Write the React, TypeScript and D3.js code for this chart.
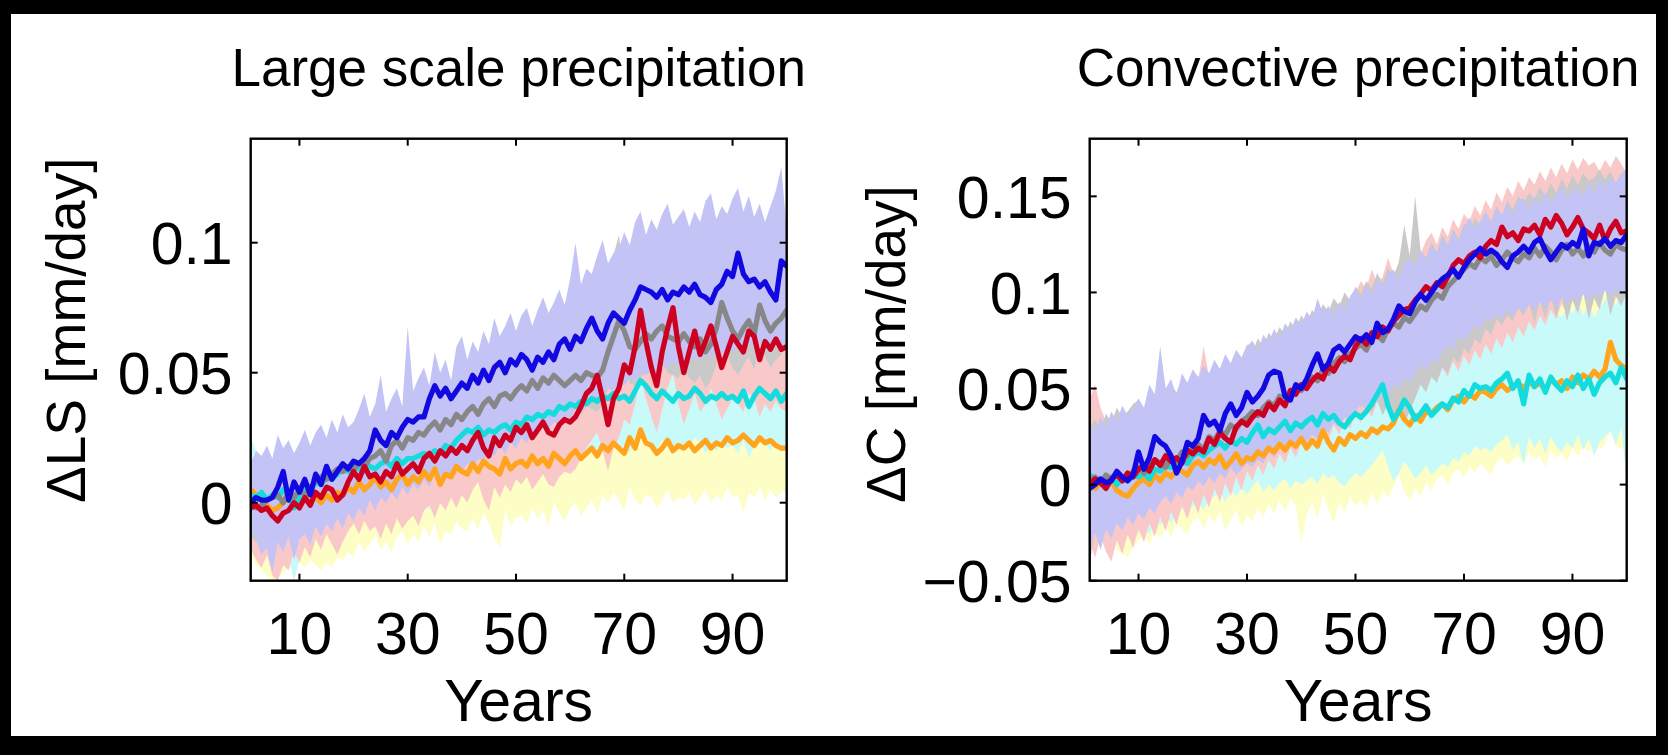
import React from 'react';
import * as d3 from 'd3';

// Years on the x axis
const years: number[] = Array.from({ length: 100 }, (_, i) => i + 1);
const xTicks = [10, 30, 50, 70, 90];
const lsYTicks = [0, 0.05, 0.1];
const cYTicks = [-0.05, 0, 0.05, 0.1, 0.15];

// ---------- Large scale precipitation (values in 0.001 mm/day) ----------
const lsBlue = [
  0, 2, 1, 1, 2, 6, 12, 1, 8, 4,
  9, 3, 11, 7, 14, 9, 12, 15, 13, 16,
  15, 17, 20, 28, 24, 22, 27, 25, 29, 32,
  31, 33, 33, 40, 45, 41, 44, 40, 43, 46,
  44, 49, 46, 51, 47, 52, 54, 50, 55, 53,
  57, 55, 51, 56, 54, 58, 55, 61, 63, 59,
  64, 62, 67, 71, 66, 63, 69, 73, 71, 69,
  74, 78, 83, 82, 81, 79, 82, 78, 81, 80,
  83, 81, 84, 80, 79, 77, 82, 84, 89, 87,
  96, 88, 85, 86, 83, 85, 81, 78, 93, 91,
];
const lsBlueHi = [
  15, 20, 18, 22, 17, 26, 21, 24, 19, 23,
  28, 22, 27, 30, 25, 32, 27, 34, 29, 31,
  36, 42, 33, 38, 49, 35, 40, 44, 37, 68,
  43, 48, 52, 45, 58, 50, 55, 47, 60, 64,
  55, 62, 58, 66, 61, 71, 64, 68, 73, 66,
  72, 75, 68, 74, 79, 73, 77, 82, 76, 86,
  100, 84, 90, 88, 95, 101, 92, 96, 98, 104,
  99, 108, 112, 103, 109, 105, 111, 115, 107, 110,
  113, 106, 112, 108, 116, 119, 109, 114, 111, 117,
  121, 112, 118, 110, 115, 108, 114, 120, 129, 105,
];
const lsBlueLo = [
  -10, -14, -20, -17, -27, -15, -19, -13, -22, -14,
  -12, -16, -9, -13, -8, -11, -6, -10, -4, -7,
  -2, -5, 1, -3, 2, 0, 4, 1, 6, 3,
  7, 5, 9, 6, 11, 8, 12, 10, 14, 12,
  15, 13, 17, 16, 20, 18, 22, 19, 23, 21,
  25, 23, 27, 26, 29, 28, 31, 30, 34, 32,
  36, 35, 38, 41, 39, 42, 44, 43, 46, 45,
  48, 47, 50, 49, 51, 50, 53, 52, 54, 53,
  55, 54, 56, 55, 57, 56, 58, 57, 59, 58,
  60, 59, 61, 60, 62, 61, 60, 62, 61, 60,
];
const lsGray = [
  0, -2, -1, 1, 2, 3, 0, 4, 2, 5,
  3, 6, 8, 10, 9, 11, 13, 12, 14, 13,
  15, 14, 17, 18, 20, 16, 22, 24, 21, 25,
  24, 27, 26, 29, 31, 28, 32, 30, 34, 32,
  35, 37, 34, 38, 40, 37, 41, 42, 40, 43,
  45, 43, 47, 44, 48, 46, 49, 47, 45, 47,
  49, 47, 50, 49, 48, 51, 58, 64, 70, 66,
  60, 59, 62, 65, 63, 66, 68, 64, 63, 62,
  65, 62, 60, 63, 58, 61, 67, 77, 71, 66,
  63, 67, 70, 65, 76, 70, 66, 69, 71, 74,
];
const lsGrayHi = [
  12, 10, 13, 14, 15, 16, 12, 17, 15, 18,
  16, 19, 21, 23, 22, 24, 26, 25, 27, 26,
  28, 27, 30, 31, 33, 29, 35, 37, 34, 38,
  37, 40, 39, 42, 44, 41, 45, 43, 47, 45,
  48, 50, 47, 51, 53, 50, 54, 55, 53, 56,
  58, 56, 60, 57, 61, 59, 62, 60, 58, 60,
  62, 60, 63, 62, 61, 70, 82, 95, 103, 88,
  78, 76, 80, 84, 82, 86, 90, 84, 82, 80,
  82, 78, 76, 80, 75, 78, 85, 97, 90, 84,
  80, 85, 88, 82, 94, 88, 84, 87, 89, 92,
];
const lsGrayLo = [
  -13, -15, -14, -12, -11, -10, -13, -9, -11, -8,
  -10, -7, -5, -3, -4, -2, 0, -1, 1, 0,
  2, 1, 4, 5, 7, 3, 9, 11, 8, 12,
  11, 14, 13, 16, 18, 15, 19, 17, 21, 19,
  22, 24, 21, 25, 27, 24, 28, 29, 27, 30,
  32, 30, 34, 31, 35, 33, 36, 34, 32, 34,
  36, 34, 37, 36, 35, 38, 44, 50, 56, 52,
  46, 45, 48, 51, 49, 52, 54, 50, 49, 48,
  51, 48, 46, 49, 44, 47, 53, 63, 57, 52,
  49, 53, 56, 51, 62, 56, 52, 55, 57, 60,
];
const lsRed = [
  -2, -1, -3, -2, -5, -7, -4, -3, 0, -2,
  2, -1, 4, 2, 6, 5, 1, 3, 8, 12,
  9, 14, 10, 11, 8, 12, 10, 15, 11, 13,
  15, 12, 17, 19, 16, 20, 18, 21, 19, 22,
  20, 24, 27, 21, 18, 25, 22, 26, 24, 29,
  27, 30, 25, 28, 31, 27, 26, 30, 32, 31,
  33, 37, 42, 44, 49, 40, 30, 40, 44, 53,
  50, 60, 74, 62, 52, 45, 58, 67, 75, 60,
  50, 58, 66, 57, 62, 68, 60, 52, 58, 64,
  61, 58, 66, 64, 55, 62, 59, 63, 59, 60,
];
const lsRedHi = [
  12, 14, 10, 13, 9, 7, 11, 13, 16, 14,
  18, 15, 20, 17, 22, 20, 16, 19, 23, 27,
  24, 29, 25, 27, 23, 28, 26, 31, 27, 29,
  31, 28, 33, 35, 32, 36, 34, 37, 35, 38,
  36, 40, 43, 37, 34, 41, 38, 42, 40, 45,
  43, 46, 41, 44, 47, 43, 42, 46, 48, 47,
  49, 53, 58, 60, 65, 56, 47, 56, 60, 69,
  66, 76, 90, 78, 68, 61, 74, 83, 91, 76,
  66, 74, 82, 73, 78, 84, 76, 68, 74, 80,
  77, 74, 82, 80, 71, 78, 75, 79, 75, 76,
];
const lsRedLo = [
  -18, -22, -25, -20, -28, -30, -24, -26, -19, -23,
  -17, -21, -14, -18, -12, -16, -20, -15, -11, -8,
  -12, -7, -11, -9, -14, -8, -12, -6, -10, -7,
  -5, -9, -3, -1, -6, 0, -3, 2, -2, 3,
  0, 5, 8, 1, -3, 6, 2, 7, 4, 9,
  7, 10, 5, 8, 11, 7, 6, 10, 12, 11,
  13, 17, 21, 24, 27, 20, 12, 21, 25, 32,
  30, 38, 48, 40, 33, 27, 36, 44, 50, 38,
  30, 36, 42, 35, 38, 44, 38, 32, 36, 40,
  38, 35, 42, 40, 33, 38, 35, 39, 36, 35,
];
const lsCyan = [
  3, 2, 4, 1, 3, 2, 5, 3, -2, 2,
  6, 4, 8, 7, 10, 9, 11, 13, 12, 14,
  13, 15, 14, 13, 15, 16, 14, 17, 15, 17,
  17, 18, 19, 18, 20, 19, 22, 21, 24, 26,
  28, 27, 29, 26, 28, 27, 29, 30, 28, 31,
  30, 33, 32, 34, 33, 35, 34, 37, 36, 38,
  37, 39, 38, 40, 39, 41, 40, 42, 40, 41,
  39, 43, 47, 45, 42, 40, 43, 41, 39, 42,
  40, 41, 44, 42, 39, 41, 40, 42, 40, 41,
  39, 43, 37, 41, 44, 42, 40, 43, 39, 42,
];
const lsCyanHi = [
  25, 20, 18, 16, 14, 15, 17, 16, 12, 15,
  18, 17, 21, 20, 23, 22, 24, 26, 25, 27,
  26, 28, 27, 26, 29, 30, 28, 32, 30, 36,
  32, 33, 34, 33, 35, 34, 37, 36, 39, 41,
  43, 42, 44, 41, 43, 42, 44, 45, 43, 46,
  45, 48, 47, 49, 48, 50, 49, 52, 51, 53,
  52, 54, 53, 55, 54, 56, 55, 57, 55, 56,
  54, 58, 62, 60, 57, 55, 58, 56, 54, 57,
  55, 56, 59, 57, 54, 56, 55, 57, 55, 56,
  54, 58, 52, 56, 59, 57, 55, 58, 54, 57,
];
const lsCyanLo = [
  -14, -18, -22, -20, -26, -19, -24, -21, -30, -22,
  -16, -20, -14, -15, -11, -13, -10, -8, -11, -7,
  -9, -5, -8, -10, -6, -4, -9, -3, -7, -4,
  -3, -2, 0, -3, 1, -1, 3, 2, 5, 7,
  9, 7, 10, 6, 9, 7, 10, 11, 8, 12,
  11, 14, 12, 15, 13, 16, 15, 18, 16, 19,
  17, 20, 18, 21, 19, 22, 20, 23, 20, 22,
  19, 24, 28, 26, 22, 20, 24, 21, 19, 23,
  20, 22, 25, 23, 19, 22, 20, 23, 21, 22,
  19, 24, 17, 22, 25, 23, 20, 24, 19, 23,
];
const lsOrange = [
  5, 3, 1, -1, -3, -2, 0, 2, 1, 3,
  1, 4, 2, 0, 3, 1, 4, 3, 6, 4,
  8, 5, 7, 10, 6, 8, 5, 9, 11, 7,
  10, 8, 12, 9, 13, 7, 11, 10, 14, 12,
  11, 15, 12, 16, 14, 13, 11, 17, 13, 15,
  16, 14, 18, 15, 17, 14, 19, 17, 15, 18,
  20, 17, 19, 21, 18, 22, 20, 23, 21, 19,
  25, 21, 28, 23, 22, 19, 21, 24, 20, 22,
  21, 23, 20, 22, 24, 21, 23, 22, 25, 23,
  24, 26, 24, 22, 25, 23, 24, 22, 21, 21,
];
const lsOrangeHi = [
  17, 15, 13, 11, 9, 10, 12, 14, 13, 15,
  13, 16, 14, 12, 15, 13, 16, 15, 18, 16,
  20, 17, 19, 22, 18, 20, 17, 21, 23, 19,
  22, 20, 24, 21, 25, 19, 23, 22, 26, 24,
  23, 27, 24, 28, 26, 25, 23, 29, 25, 27,
  28, 26, 30, 27, 29, 26, 31, 29, 27, 30,
  32, 29, 31, 33, 30, 34, 32, 35, 33, 31,
  37, 33, 36, 35, 34, 31, 33, 36, 32, 34,
  33, 35, 32, 34, 36, 33, 35, 34, 37, 35,
  36, 38, 36, 34, 37, 35, 36, 34, 33, 33,
];
const lsOrangeLo = [
  -20, -24, -26, -28, -30, -29, -27, -25, -26, -23,
  -25, -22, -24, -26, -23, -25, -21, -22, -19, -21,
  -15, -19, -16, -12, -18, -15, -19, -13, -11, -16,
  -12, -15, -9, -13, -8, -16, -11, -12, -7, -10,
  -11, -6, -10, -4, -8, -14, -17, -3, -9, -6,
  -5, -8, -2, -6, -3, -9, 0, -4, -7, -2,
  0, -5, -2, 1, -4, 3, 0, 4, 1, -3,
  6, 1, -1, 3, 2, -2, 1, 5, 0, 2,
  1, 4, -1, 2, 5, 0, 3, 1, 6, 2,
  3, -4, 4, 2, 6, 1, 5, 2, 4, 5,
];

// ---------- Convective precipitation (values in 0.001 mm/day) ----------
const cBlue = [
  -2, 0, 3, 1, 2, 7, 4, 2, 5, 17,
  8, 14, 25, 22, 20, 15, 6, 12, 22, 20,
  24, 36, 31, 33, 28, 37, 42, 36, 40, 48,
  43, 46, 50, 57, 59, 58, 46, 44, 52, 50,
  55, 62, 68, 60, 63, 70, 72, 69, 73, 77,
  75, 78, 74, 84, 79, 81, 86, 93, 90, 89,
  95, 99, 96, 100, 104, 107, 109, 112, 108, 113,
  117, 120, 123, 120, 122, 120, 116, 113, 119, 121,
  124, 121, 126, 128, 122, 117, 121, 125, 123, 126,
  124, 133, 119, 126, 125, 128, 124, 127, 126, 130,
];
const cBlueHi = [
  32, 28, 35, 30, 38, 33, 41, 36, 39, 45,
  40, 52, 47, 72, 50, 55, 46, 58, 53, 60,
  56, 62, 58, 65, 60, 68, 63, 70, 66, 72,
  75, 69, 78, 74, 81, 76, 84, 80, 87, 83,
  90, 86, 97, 89, 93, 88, 95, 91, 98, 102,
  96, 104, 99, 107, 103, 110, 112, 106, 115, 118,
  113, 122, 117, 125, 120, 129, 124, 131, 127, 134,
  139, 133, 137, 142, 136, 144, 140, 146, 141, 148,
  149, 143, 150, 146, 152, 147, 151, 155, 149, 153,
  154, 150, 157, 152, 159, 155, 160, 157, 162, 164,
];
const cBlueLo = [
  -31, -25, -34, -23, -28, -20, -24, -17, -21, -15,
  -18, -12, -15, -9, -6, -10, -4, -7, -1, -3,
  2, -1, 4, 1, 6, 3, 9, 5, 8, 11,
  9, 13, 11, 17, 14, 19, 16, 21, 18, 24,
  22, 26, 24, 29, 27, 32, 30, 35, 33, 38,
  42, 39, 45, 43, 48, 46, 52, 50, 55, 53,
  58, 62, 60, 65, 63, 69, 72, 70, 77, 75,
  79, 83, 81, 87, 85, 89, 86, 91, 88, 92,
  90, 94, 91, 95, 92, 96, 93, 97, 94, 98,
  95, 99, 96, 100, 97, 101, 98, 102, 99, 102,
];
const cGray = [
  2, 4, 1, 5, 3, 6, 2, 4, 7, 9,
  6, 10, 13, 11, 9, 14, 12, 17, 15, 19,
  21, 18, 25, 23, 28, 26, 31, 29, 33, 35,
  38, 36, 40, 43, 41, 46, 44, 48, 51, 49,
  53, 56, 54, 60, 58, 63, 66, 64, 68, 71,
  73, 70, 76, 78, 75, 81, 84, 82, 87, 85,
  89, 93, 91, 96, 99, 97, 103, 106, 109, 112,
  115, 113, 118, 116, 119, 114, 117, 121, 118, 116,
  120, 118, 123, 119, 124, 121, 117, 122, 125, 120,
  123, 119, 124, 121, 126, 122, 120, 125, 123, 122,
];
const cGrayHi = [
  30, 34, 28, 37, 32, 40, 35, 38, 42, 44,
  39, 46, 43, 49, 45, 52, 48, 55, 51, 58,
  54, 61, 57, 64, 60, 67, 63, 70, 66, 73,
  69, 76, 72, 79, 75, 82, 78, 85, 81, 88,
  84, 91, 87, 94, 90, 97, 93, 100, 96, 103,
  99, 106, 102, 110, 105, 113, 108, 116, 135, 119,
  150, 122, 118, 126, 121, 130, 125, 133, 128, 136,
  131, 139, 134, 142, 137, 145, 140, 148, 143, 150,
  146, 152, 148, 155, 150, 157, 152, 159, 154, 161,
  156, 162, 158, 160, 164, 159, 163, 157, 161, 158,
];
const cGrayLo = [
  -42, -22, -30, -20, -25, -18, -22, -15, -18, -12,
  -15, -9, -12, -6, -3, -7, -1, -4, 2, 0,
  4, 2, 7, 4, 9, 6, 12, 8, 11, 14,
  19, 24, 21, 27, 25, 30, 28, 33, 31, 36,
  34, 38, 36, 41, 38, 43, 40, 45, 42, 44,
  40, 46, 38, 44, 36, 42, 34, 40, 32, 38,
  45, 52, 48, 56, 53, 61, 58, 66, 63, 71,
  68, 76, 73, 81, 78, 86, 83, 88, 85, 92,
  88, 94, 84, 96, 86, 98, 87, 99, 85, 96,
  89, 100, 86, 97, 91, 102, 88, 98, 93, 100,
];
const cRed = [
  0, 3, 1, -2, 3, 5, 2, 6, 4, 8,
  10, 7, 13, 10, 15, 12, 14, 11, 18, 16,
  19, 17, 24, 21, 27, 24, 22, 30, 33, 31,
  35, 38, 36, 42, 39, 44, 41, 49, 47, 52,
  50, 54, 57, 55, 62, 59, 64, 67, 65, 72,
  76, 73, 79, 77, 82, 80, 85, 88, 91, 92,
  96, 99, 103, 101, 105, 103, 108, 114, 117, 115,
  119, 121, 118, 124, 127, 125, 134, 129, 131, 127,
  133, 132, 135, 130, 138, 134, 140, 136, 130, 134,
  139, 133, 131, 128, 135, 127, 133, 137, 131, 132,
];
const cRedHi = [
  45, 52, 40, 33, 36, 30, 38, 35, 37, 42,
  38, 48, 45, 60, 48, 52, 44, 55, 50, 57,
  54, 72, 56, 62, 58, 66, 61, 68, 64, 70,
  73, 67, 76, 72, 79, 74, 82, 78, 85, 81,
  88, 84, 95, 87, 91, 86, 93, 89, 96, 100,
  106, 102, 112, 105, 108, 118, 110, 114, 121, 116,
  124, 120, 127, 131, 125, 134, 129, 138, 133, 141,
  137, 145, 140, 148, 143, 152, 147, 155, 150, 158,
  153, 160, 156, 163, 158, 165, 160, 167, 162, 169,
  164, 170, 166, 168, 163, 169, 165, 171, 167, 162,
];
const cRedLo = [
  -30, -38, -27, -35, -40, -29, -36, -26, -33, -23,
  -30, -20, -27, -17, -24, -14, -21, -11, -18, -8,
  -15, -5, -12, -2, -9, 1, -6, 4, -3, 7,
  2, 10, 5, 13, 8, 16, 11, 19, 14, 22,
  17, 25, 20, 28, 23, 31, 26, 34, 29, 37,
  32, 40, 35, 43, 38, 46, 41, 49, 44, 52,
  47, 55, 50, 58, 53, 61, 56, 64, 59, 67,
  62, 70, 65, 73, 68, 76, 71, 79, 74, 82,
  77, 85, 80, 88, 83, 91, 86, 94, 89, 97,
  92, 100, 95, 103, 98, 106, 101, 109, 104, 112,
];
const cCyan = [
  5, 3, 1, 2, 4, 0, 3, 2, 5, 4,
  6, 3, 8, 7, 10, 9, 12, 14, 11, 15,
  17, 15, 18, 20, 22, 19, 23, 21, 24, 22,
  27, 31, 25, 29, 27, 30, 33, 28, 32, 30,
  33, 35, 31, 37, 34, 36, 32, 30, 34, 37,
  35, 38, 42, 47, 52, 41, 34, 38, 44, 40,
  34, 37, 41, 36, 39, 42, 40, 45, 43, 49,
  46, 52, 50, 51, 49, 53, 55, 58, 50, 54,
  42, 57, 51, 55, 48, 56, 52, 49, 54, 51,
  57, 50, 55, 47, 53, 56, 58, 53, 61, 55,
];
const cCyanHi = [
  30, 26, 33, 28, 31, 25, 29, 27, 32, 30,
  34, 29, 36, 33, 38, 35, 40, 42, 37, 44,
  46, 42, 48, 45, 50, 47, 52, 49, 54, 51,
  56, 58, 53, 57, 55, 59, 61, 56, 60, 58,
  62, 64, 60, 66, 63, 65, 61, 60, 64, 68,
  66, 70, 73, 78, 82, 72, 65, 70, 76, 72,
  68, 72, 76, 71, 75, 78, 76, 81, 79, 85,
  82, 88, 86, 87, 85, 89, 91, 94, 86, 90,
  80, 94, 88, 92, 86, 93, 90, 87, 92, 89,
  95, 88, 94, 87, 92, 96, 99, 93, 102, 96,
];
const cCyanLo = [
  -20, -24, -28, -25, -22, -30, -26, -27, -23, -25,
  -22, -26, -19, -21, -17, -20, -15, -12, -16, -11,
  -10, -13, -8, -6, -4, -9, -3, -6, -2, -5,
  -1, 2, -4, 0, -3, 1, 3, -2, 2, 0,
  2, 4, 0, 6, 3, 5, 1, -1, 3, 6,
  4, 7, 10, 14, 18, 9, 2, 6, 12, 8,
  3, 6, 10, 5, 8, 11, 9, 14, 12, 17,
  15, 20, 18, 19, 17, 21, 23, 26, 18, 22,
  10, 25, 19, 24, 16, 25, 20, 17, 22, 19,
  26, 18, 24, 15, 22, 25, 28, 21, 30, 2,
];
const cOrange = [
  0, -2, 1, -1, 2, -3, -5, -6, -2, 1,
  3, 0, 5, 2, 6, 4, 8, 7, 5, 10,
  12, 9, 13, 11, 15, 9, 12, 16, 11, 14,
  13, 17, 15, 19, 17, 21, 18, 22, 20, 24,
  19, 23, 20, 28, 22, 18, 24, 21, 26, 24,
  27, 25, 29, 27, 30, 29, 32, 39, 34, 31,
  36, 33, 38, 37, 40, 42, 39, 44, 46, 43,
  47, 45, 49, 48, 46, 50, 52, 49, 51, 53,
  50, 54, 51, 53, 49, 55, 52, 54, 50, 56,
  53, 57, 55, 59, 56, 60, 74, 65, 62, 60,
];
const cOrangeHi = [
  28, 24, 30, 26, 32, 22, 20, 18, 24, 28,
  30, 26, 34, 28, 36, 31, 38, 35, 33, 40,
  42, 38, 44, 41, 46, 37, 43, 48, 40, 45,
  44, 50, 47, 53, 49, 56, 51, 58, 54, 60,
  52, 57, 53, 64, 56, 50, 59, 55, 62, 58,
  63, 60, 66, 62, 67, 65, 70, 78, 72, 68,
  74, 70, 77, 75, 80, 83, 78, 86, 88, 84,
  89, 86, 92, 90, 87, 93, 96, 91, 94, 97,
  92, 98, 94, 97, 91, 104, 96, 101, 93, 106,
  97, 108, 99, 110, 102, 104, 118, 107, 103, 100,
];
const cOrangeLo = [
  -28, -32, -26, -30, -25, -34, -36, -38, -33, -29,
  -26, -31, -24, -28, -22, -27, -20, -23, -26, -19,
  -17, -23, -16, -20, -14, -24, -18, -13, -22, -16,
  -19, -12, -17, -10, -15, -8, -14, -7, -11, -30,
  -16, -9, -18, -5, -13, -20, -9, -15, -6, -11,
  -8, -12, -4, -10, -3, -7, -1, 5, -4, -8,
  -2, -6, 1, -3, 3, 5, 0, 6, 8, 4,
  9, 6, 11, 8, 5, 12, 14, 10, 13, 15,
  11, 17, 13, 15, 9, 18, 14, 16, 12, 19,
  15, 20, 17, 22, 18, 21, 28, 20, 19, 18,
];

type Series = {
  line: number[];
  lo: number[];
  hi: number[];
  lineColor: string;
  bandColor: string;
};

const COLORS = {
  blue: '#1208e0',
  gray: '#878787',
  red: '#cc0020',
  cyan: '#14dcdc',
  orange: '#ffa41c',
  blueBand: '#c3c3f5',
  grayBand: '#c9c9c9',
  redBand: '#f9c9c9',
  cyanBand: '#c9fafa',
  orangeBand: '#fdfdc6',
};

const lsSeries: Record<string, Series> = {
  orange: { line: lsOrange, lo: lsOrangeLo, hi: lsOrangeHi, lineColor: COLORS.orange, bandColor: COLORS.orangeBand },
  cyan: { line: lsCyan, lo: lsCyanLo, hi: lsCyanHi, lineColor: COLORS.cyan, bandColor: COLORS.cyanBand },
  red: { line: lsRed, lo: lsRedLo, hi: lsRedHi, lineColor: COLORS.red, bandColor: COLORS.redBand },
  gray: { line: lsGray, lo: lsGrayLo, hi: lsGrayHi, lineColor: COLORS.gray, bandColor: COLORS.grayBand },
  blue: { line: lsBlue, lo: lsBlueLo, hi: lsBlueHi, lineColor: COLORS.blue, bandColor: COLORS.blueBand },
};
const cSeries: Record<string, Series> = {
  orange: { line: cOrange, lo: cOrangeLo, hi: cOrangeHi, lineColor: COLORS.orange, bandColor: COLORS.orangeBand },
  cyan: { line: cCyan, lo: cCyanLo, hi: cCyanHi, lineColor: COLORS.cyan, bandColor: COLORS.cyanBand },
  red: { line: cRed, lo: cRedLo, hi: cRedHi, lineColor: COLORS.red, bandColor: COLORS.redBand },
  gray: { line: cGray, lo: cGrayLo, hi: cGrayHi, lineColor: COLORS.gray, bandColor: COLORS.grayBand },
  blue: { line: cBlue, lo: cBlueLo, hi: cBlueHi, lineColor: COLORS.blue, bandColor: COLORS.blueBand },
};
const bandOrder = ['orange', 'cyan', 'red', 'gray', 'blue'];
const lineOrder = ['orange', 'cyan', 'gray', 'red', 'blue'];

const FONT = "'Liberation Sans', Arial, Helvetica, sans-serif";
const UNIT = 1000; // data stored in 0.001 mm/day

const fmt = (d: number) => {
  if (d === 0) return '0';
  const s = String(Math.abs(+d.toFixed(3)));
  return (d < 0 ? '\u2212' : '') + s;
};

type PanelProps = {
  id: string;
  left: number;
  right: number;
  top: number;
  bottom: number;
  title: string;
  ylabel: string;
  ylabelX: number;
  yDomain: [number, number];
  yTicks: number[];
  series: Record<string, Series>;
};

function Panel(p: PanelProps) {
  const x = d3.scaleLinear().domain([1, 100]).range([p.left, p.right]);
  const y = d3.scaleLinear().domain(p.yDomain).range([p.bottom, p.top]);
  const area = (s: Series) =>
    d3
      .area<number>()
      .x((_, i) => x(years[i]))
      .y0((_, i) => y(s.lo[i] / UNIT))
      .y1((_, i) => y(s.hi[i] / UNIT))(years) || '';
  const line = (s: Series) =>
    d3
      .line<number>()
      .x((_, i) => x(years[i]))
      .y((_, i) => y(s.line[i] / UNIT))(years) || '';
  const cx = (p.left + p.right) / 2;
  const tickLen = 7;
  const fs = 59;
  return (
    <g>
      <defs>
        <clipPath id={`clip-${p.id}`}>
          <rect x={p.left} y={p.top} width={p.right - p.left} height={p.bottom - p.top} />
        </clipPath>
      </defs>
      <text x={cx} y={86} textAnchor="middle" fontSize={53} fontFamily={FONT} fill="#000">
        {p.title}
      </text>
      <g clipPath={`url(#clip-${p.id})`}>
        {bandOrder.map((k) => (
          <path key={`b-${k}`} d={area(p.series[k])} fill={p.series[k].bandColor} stroke="none" />
        ))}
        {lineOrder.map((k) => (
          <path
            key={`l-${k}`}
            d={line(p.series[k])}
            fill="none"
            stroke={p.series[k].lineColor}
            strokeWidth={5.2}
            strokeLinejoin="round"
            strokeLinecap="round"
          />
        ))}
      </g>
      {xTicks.map((t) => (
        <g key={`xt-${t}`}>
          <line x1={x(t)} x2={x(t)} y1={p.bottom} y2={p.bottom - tickLen} stroke="#000" strokeWidth={2} />
          <line x1={x(t)} x2={x(t)} y1={p.top} y2={p.top + tickLen} stroke="#000" strokeWidth={2} />
          <text x={x(t)} y={654} textAnchor="middle" fontSize={fs} fontFamily={FONT} fill="#000">
            {t}
          </text>
        </g>
      ))}
      {p.yTicks.map((t) => (
        <g key={`yt-${t}`}>
          <line x1={p.left} x2={p.left + tickLen} y1={y(t)} y2={y(t)} stroke="#000" strokeWidth={2} />
          <line x1={p.right} x2={p.right - tickLen} y1={y(t)} y2={y(t)} stroke="#000" strokeWidth={2} />
          <text x={p.left - 18} y={y(t)} dy="0.36em" textAnchor="end" fontSize={fs} fontFamily={FONT} fill="#000">
            {fmt(t)}
          </text>
        </g>
      ))}
      <rect
        x={p.left}
        y={p.top}
        width={p.right - p.left}
        height={p.bottom - p.top}
        fill="none"
        stroke="#000"
        strokeWidth={2.4}
      />
      <text x={cx} y={721} textAnchor="middle" fontSize={fs} fontFamily={FONT} fill="#000">
        Years
      </text>
      <text
        transform={`translate(${p.ylabelX},503) rotate(-90)`}
        textAnchor="start"
        fontSize={55}
        fontFamily={FONT}
        fill="#000"
      >
        {p.ylabel}
      </text>
    </g>
  );
}

export default function App() {
  const W = 1668;
  const H = 755;
  return (
    <div style={{ position: 'absolute', left: 0, top: 0, width: W, height: H }}>
      <svg width={W} height={H} viewBox={`0 0 ${W} ${H}`} style={{ display: 'block' }}>
        <rect x={0} y={0} width={W} height={H} fill="#000" />
        <rect x={11} y={14} width={1656 - 11} height={736 - 14} fill="#fff" />
        <Panel
          id="ls"
          left={250.7}
          right={786.7}
          top={138.7}
          bottom={580.7}
          title="Large scale precipitation"
          ylabel={'\u0394LS [mm/day]'}
          ylabelX={85}
          yDomain={[-0.03, 0.14]}
          yTicks={lsYTicks}
          series={lsSeries}
        />
        <Panel
          id="c"
          left={1089.7}
          right={1626.7}
          top={138.7}
          bottom={580.7}
          title="Convective precipitation"
          ylabel={'\u0394C [mm/day]'}
          ylabelX={905}
          yDomain={[-0.05, 0.18]}
          yTicks={cYTicks}
          series={cSeries}
        />
      </svg>
    </div>
  );
}
